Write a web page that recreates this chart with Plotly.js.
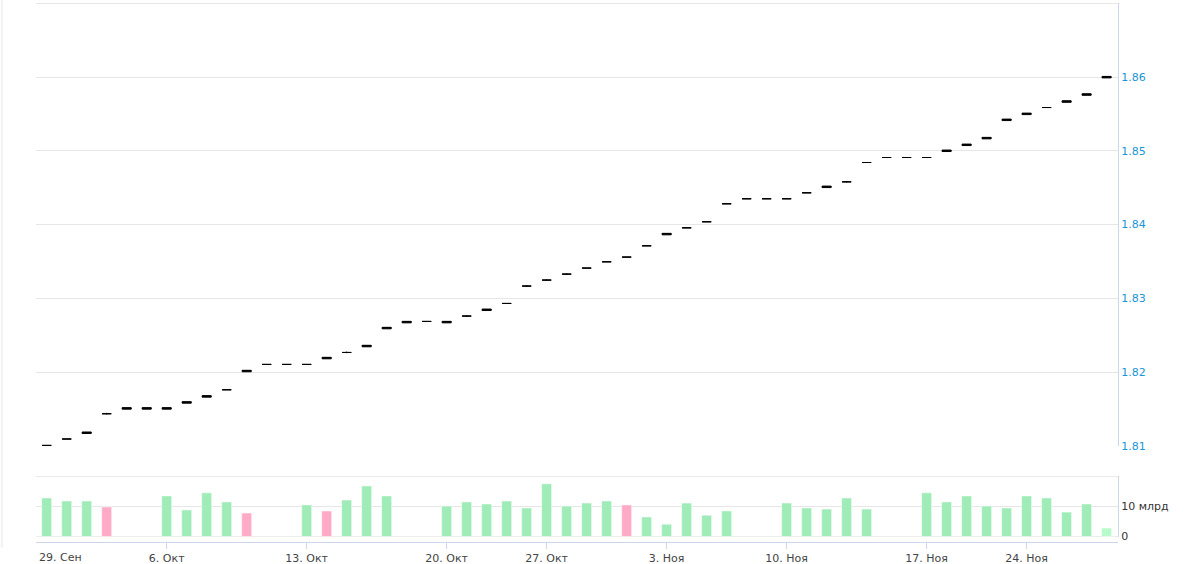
<!DOCTYPE html>
<html>
<head>
<meta charset="utf-8">
<script src="https://cdn.plot.ly/plotly-3.0.1.min.js"></script>
<style>
  html, body { margin: 0; padding: 0; background: #fff; }
  #chart { width: 1200px; height: 564px; }
</style>
</head>
<body>
<div id="chart"></div>
<script>
// trading days shown on the ordinal axis
var dates = [
  '2025-09-30', '2025-10-01', '2025-10-02', '2025-10-03', '2025-10-04', '2025-10-05',
  '2025-10-06', '2025-10-07', '2025-10-08', '2025-10-09', '2025-10-10', '2025-10-11', '2025-10-12',
  '2025-10-13', '2025-10-14', '2025-10-15', '2025-10-16', '2025-10-17', '2025-10-18', '2025-10-19',
  '2025-10-20', '2025-10-21', '2025-10-22', '2025-10-23', '2025-10-24',
  '2025-10-27', '2025-10-28', '2025-10-29', '2025-10-30', '2025-10-31', '2025-11-01',
  '2025-11-03', '2025-11-05', '2025-11-06', '2025-11-07', '2025-11-08', '2025-11-09',
  '2025-11-10', '2025-11-11', '2025-11-12', '2025-11-13', '2025-11-14', '2025-11-15', '2025-11-16',
  '2025-11-17', '2025-11-18', '2025-11-19', '2025-11-20', '2025-11-21',
  '2025-11-24', '2025-11-25', '2025-11-26', '2025-11-27', '2025-11-28'
];

var open = [
  1.81004, 1.81091, 1.81166, 1.81434, 1.81496, 1.81496,
  1.81496, 1.81577, 1.81659, 1.81759, 1.82003, 1.82103, 1.82103,
  1.82103, 1.82179, 1.82265, 1.82342, 1.82586, 1.82667, 1.82686,
  1.82667, 1.82759, 1.82834, 1.82930, 1.83166,
  1.83247, 1.83328, 1.83410, 1.83495, 1.83559, 1.83712,
  1.83861, 1.83956, 1.84038, 1.84282, 1.84350, 1.84350,
  1.84350, 1.84431, 1.84502, 1.84580, 1.84842, 1.84910, 1.84910,
  1.84910, 1.84991, 1.85072, 1.85163, 1.85411,
  1.85492, 1.85588, 1.85659, 1.85754, 1.85990
];
var close = [
  1.81004, 1.81091, 1.81186, 1.81434, 1.81516, 1.81516,
  1.81516, 1.81597, 1.81679, 1.81759, 1.82023, 1.82103, 1.82103,
  1.82103, 1.82199, 1.82265, 1.82362, 1.82606, 1.82687, 1.82686,
  1.82687, 1.82759, 1.82854, 1.82930, 1.83166,
  1.83247, 1.83328, 1.83410, 1.83495, 1.83559, 1.83712,
  1.83881, 1.83956, 1.84038, 1.84282, 1.84350, 1.84350,
  1.84350, 1.84431, 1.84522, 1.84580, 1.84842, 1.84910, 1.84910,
  1.84910, 1.85011, 1.85092, 1.85183, 1.85431,
  1.85512, 1.85588, 1.85679, 1.85774, 1.86010
];
var high = [
  1.81004, 1.81091, 1.81186, 1.81446, 1.81516, 1.81516,
  1.81516, 1.81597, 1.81679, 1.81759, 1.82023, 1.82103, 1.82103,
  1.82103, 1.82199, 1.82277, 1.82362, 1.82606, 1.82687, 1.82686,
  1.82687, 1.82771, 1.82854, 1.82930, 1.83178,
  1.83259, 1.83340, 1.83410, 1.83495, 1.83559, 1.83712,
  1.83881, 1.83956, 1.84038, 1.84282, 1.84350, 1.84350,
  1.84350, 1.84431, 1.84522, 1.84592, 1.84842, 1.84910, 1.84910,
  1.84910, 1.85011, 1.85092, 1.85183, 1.85431,
  1.85512, 1.85588, 1.85679, 1.85774, 1.86010
];
var low = [
  1.81004, 1.81091, 1.81166, 1.81424, 1.81496, 1.81496,
  1.81496, 1.81577, 1.81659, 1.81759, 1.82003, 1.82103, 1.82103,
  1.82103, 1.82179, 1.82255, 1.82342, 1.82586, 1.82667, 1.82686,
  1.82667, 1.82749, 1.82834, 1.82930, 1.83156,
  1.83237, 1.83318, 1.83410, 1.83495, 1.83559, 1.83712,
  1.83861, 1.83956, 1.84038, 1.84282, 1.84350, 1.84350,
  1.84350, 1.84431, 1.84502, 1.84570, 1.84842, 1.84910, 1.84910,
  1.84910, 1.84991, 1.85072, 1.85163, 1.85411,
  1.85492, 1.85588, 1.85659, 1.85754, 1.85990
];

// volume, billions (null = no trading)
var volume = [
  12.8, 11.8, 11.8, 9.8, null, null,
  13.5, 8.8, 14.5, 11.5, 7.8, null, null,
  10.5, 8.5, 12.1, 16.8, 13.5, null, null,
  10.1, 11.5, 10.8, 11.8, 9.5,
  17.5, 10.1, 11.1, 11.8, 10.5, 6.5,
  4.1, 11.1, 7.1, 8.5, null, null,
  11.1, 9.5, 9.1, 12.8, 9.1, null, null,
  14.5, 11.5, 13.5, 10.1, 9.5,
  13.5, 12.8, 8.1, 10.8, 2.8
];
var downDays = ['2025-10-03', '2025-10-10', '2025-10-14', '2025-10-31'];
var liveDay = '2025-11-28';

var tickDates = ['2025-10-06', '2025-10-13', '2025-10-20', '2025-10-27', '2025-11-03', '2025-11-10', '2025-11-17', '2025-11-24'];
var tickLabels = ['6. Окт', '13. Окт', '20. Окт', '27. Окт', '3. Ноя', '10. Ноя', '17. Ноя', '24. Ноя'];
var priceTicks = [1.81, 1.82, 1.83, 1.84, 1.85, 1.86, 1.87];
var volumeTicks = [0, 10, 20];

var barColors = dates.map(function (d) {
  if (d === liveDay) return '#b6fbc9';
  if (downDays.indexOf(d) >= 0) return '#ffabc7';
  return '#9fecb8';
});

var candles = {
  type: 'candlestick',
  x: dates, open: open, high: high, low: low, close: close,
  xaxis: 'x', yaxis: 'y',
  increasing: { line: { color: '#000', width: 1 }, fillcolor: '#000' },
  decreasing: { line: { color: '#000', width: 1 }, fillcolor: '#000' },
  whiskerwidth: 0,
  hoverinfo: 'skip',
  showlegend: false
};

var vol = {
  type: 'bar',
  x: dates, y: volume,
  xaxis: 'x', yaxis: 'y2',
  width: 0.5,
  marker: { color: barColors, line: { color: '#fff', width: 0.5 } },
  hoverinfo: 'skip',
  showlegend: false
};

var axisLine = '#ccd6eb';
var grid = '#e6e6e6';

// grid lines that sit on the pane edges (Plotly drops those)
function edgeLine(yref, v) {
  return {
    type: 'line', xref: 'paper', yref: yref, layer: 'below',
    x0: 0, x1: 1, y0: v, y1: v,
    line: { color: grid, width: 1 }
  };
}

var layout = {
  width: 1200,
  height: 564,
  margin: { l: 36, r: 82, t: 3, b: 22 },
  paper_bgcolor: '#fff',
  plot_bgcolor: '#fff',
  font: { family: 'DejaVu Sans, Verdana, sans-serif', size: 11, color: '#333' },
  showlegend: false,
  boxgap: 0.35,
  xaxis: {
    type: 'category',
    categoryorder: 'array',
    categoryarray: dates,
    range: [-0.535, 53.57],
    rangeslider: { visible: false },
    anchor: 'free',
    position: 0,
    showline: true,
    linecolor: axisLine,
    linewidth: 1,
    showgrid: false,
    ticks: 'outside',
    ticklen: 6,
    tickcolor: axisLine,
    tickvals: tickDates,
    ticktext: tickLabels,
    tickfont: { size: 11, color: '#444' },
    fixedrange: true
  },
  yaxis: {
    domain: [0.1781, 1],
    range: [1.80996, 1.87006],
    side: 'right',
    showline: true,
    linecolor: axisLine,
    gridcolor: grid,
    zeroline: false,
    tickvals: priceTicks,
    ticktext: ['1.81', '1.82', '1.83', '1.84', '1.85', '1.86', ''],
    tickfont: { size: 11, color: '#1a95d5' },
    ticks: '',
    fixedrange: true
  },
  yaxis2: {
    domain: [0.0098, 0.1224],
    range: [-0.08, 20.1],
    side: 'right',
    showline: true,
    linecolor: axisLine,
    gridcolor: grid,
    zeroline: false,
    tickvals: volumeTicks,
    ticktext: ['0', '10 млрд', ''],
    tickfont: { size: 11, color: '#333' },
    ticks: '',
    fixedrange: true
  },
  annotations: [{
    xref: 'paper', yref: 'paper',
    x: 0.0005, y: 0,
    xanchor: 'left', yanchor: 'top',
    yshift: -7,
    text: '29. Сен',
    showarrow: false,
    font: { size: 11, color: '#444' }
  }],
  shapes: [
    {
      type: 'line', xref: 'paper', yref: 'paper',
      x0: -0.0315, x1: -0.0315, y0: -0.01, y1: 1.01,
      line: { color: grid, width: 1 }
    },
    edgeLine('y', 1.87),
    edgeLine('y2', 20),
    edgeLine('y2', 0)
  ]
};

Plotly.newPlot('chart', [vol, candles], layout, { displayModeBar: false, staticPlot: true });
</script>
</body>
</html>
